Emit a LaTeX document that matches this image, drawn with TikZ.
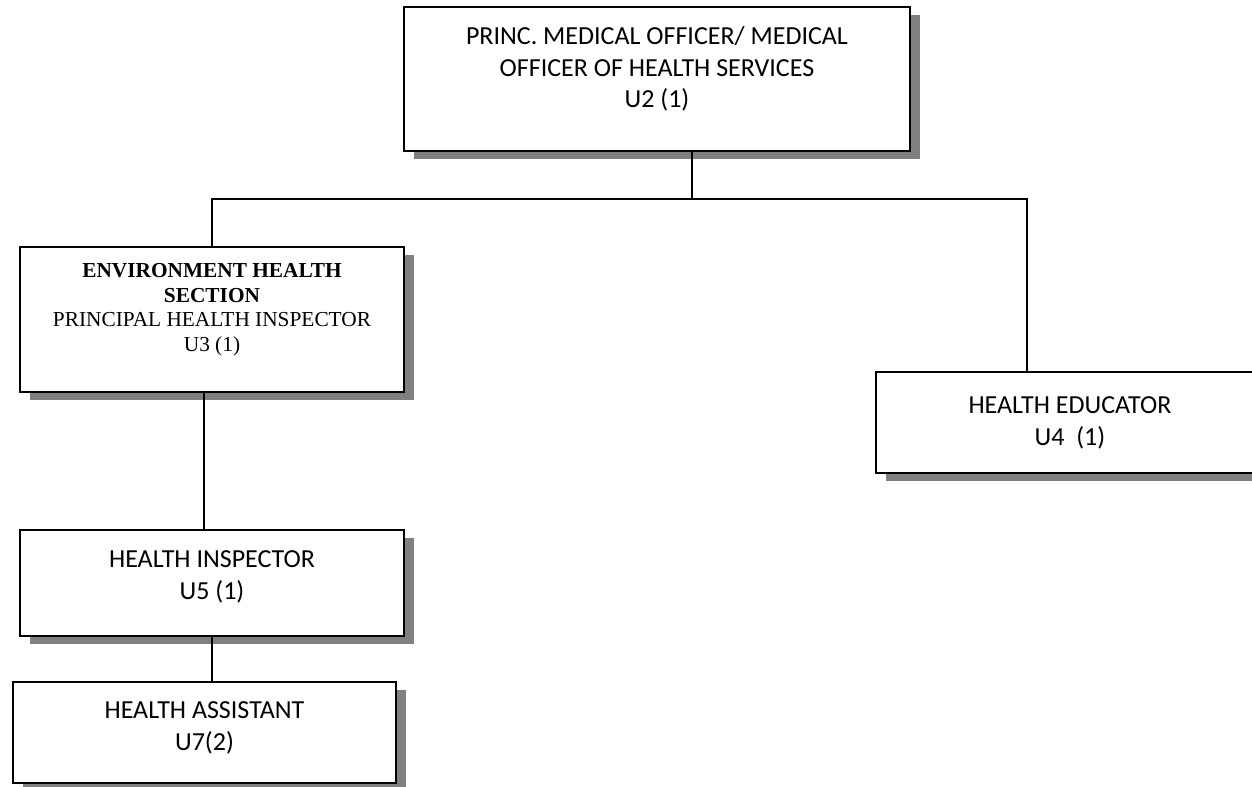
\documentclass[tikz,border=0pt]{standalone}
\usepackage{fontspec}
\setmainfont{Carlito}
\newfontfamily\timesfont{Liberation Serif}
\usetikzlibrary{shadows,positioning,calc}

\begin{document}
\begin{tikzpicture}[x=0.75pt,y=-0.75pt,
    post/.style={draw, line width=1.4pt, shape=rectangle, fill=white, align=center, inner sep=0pt,
      font=\fontsize{19.5}{23.8}\selectfont,
      drop shadow={shadow xshift=7.5pt, shadow yshift=-6pt, fill=black!50, opacity=1}},
    link/.style={line width=1pt}]
\useasboundingbox (0,0) rectangle (1252,786);
\node[post, minimum width=379.5pt, minimum height=108pt] (officer) at (657,79)
  {PRINC. MEDICAL OFFICER/ MEDICAL\\OFFICER OF HEALTH SERVICES\\U2 (1)\\[-6pt]\mbox{}};
\node[post, minimum width=288pt, minimum height=108.75pt, font=\timesfont\fontsize{16}{18.4}\selectfont] (envsec) at (212,319.5)
  {\textbf{ENVIRONMENT HEALTH}\\\textbf{SECTION}\\PRINCIPAL HEALTH INSPECTOR\\U3 (1)\\\mbox{}};
\node[post, minimum width=291pt, minimum height=75.75pt] (educator) at (1070,422.5)
  {HEALTH EDUCATOR\\U4~~(1)};
\node[post, minimum width=288pt, minimum height=79.5pt] (inspector) at (212,583)
  {HEALTH INSPECTOR\\U5 (1)\\[-12pt]\mbox{}};
\node[post, minimum width=287.25pt, minimum height=75.75pt] (assistant) at (204.5,732.5)
  {HEALTH ASSISTANT\\U7(2)\\[-14pt]\mbox{}};
% connectors
\coordinate (bus) at (692,199);
\coordinate (eduup) at (1027,199);
\coordinate (envdown) at (204,400);
\draw[link] (officer.south -| bus) -- (bus);
\draw[link] (envsec.north) |- (eduup) -- (eduup |- educator.north);
\draw[link] (envsec.south -| envdown) -- (inspector.north -| envdown);
\draw[link] (inspector.south) -- (inspector.south |- assistant.north);
\end{tikzpicture}
\end{document}
